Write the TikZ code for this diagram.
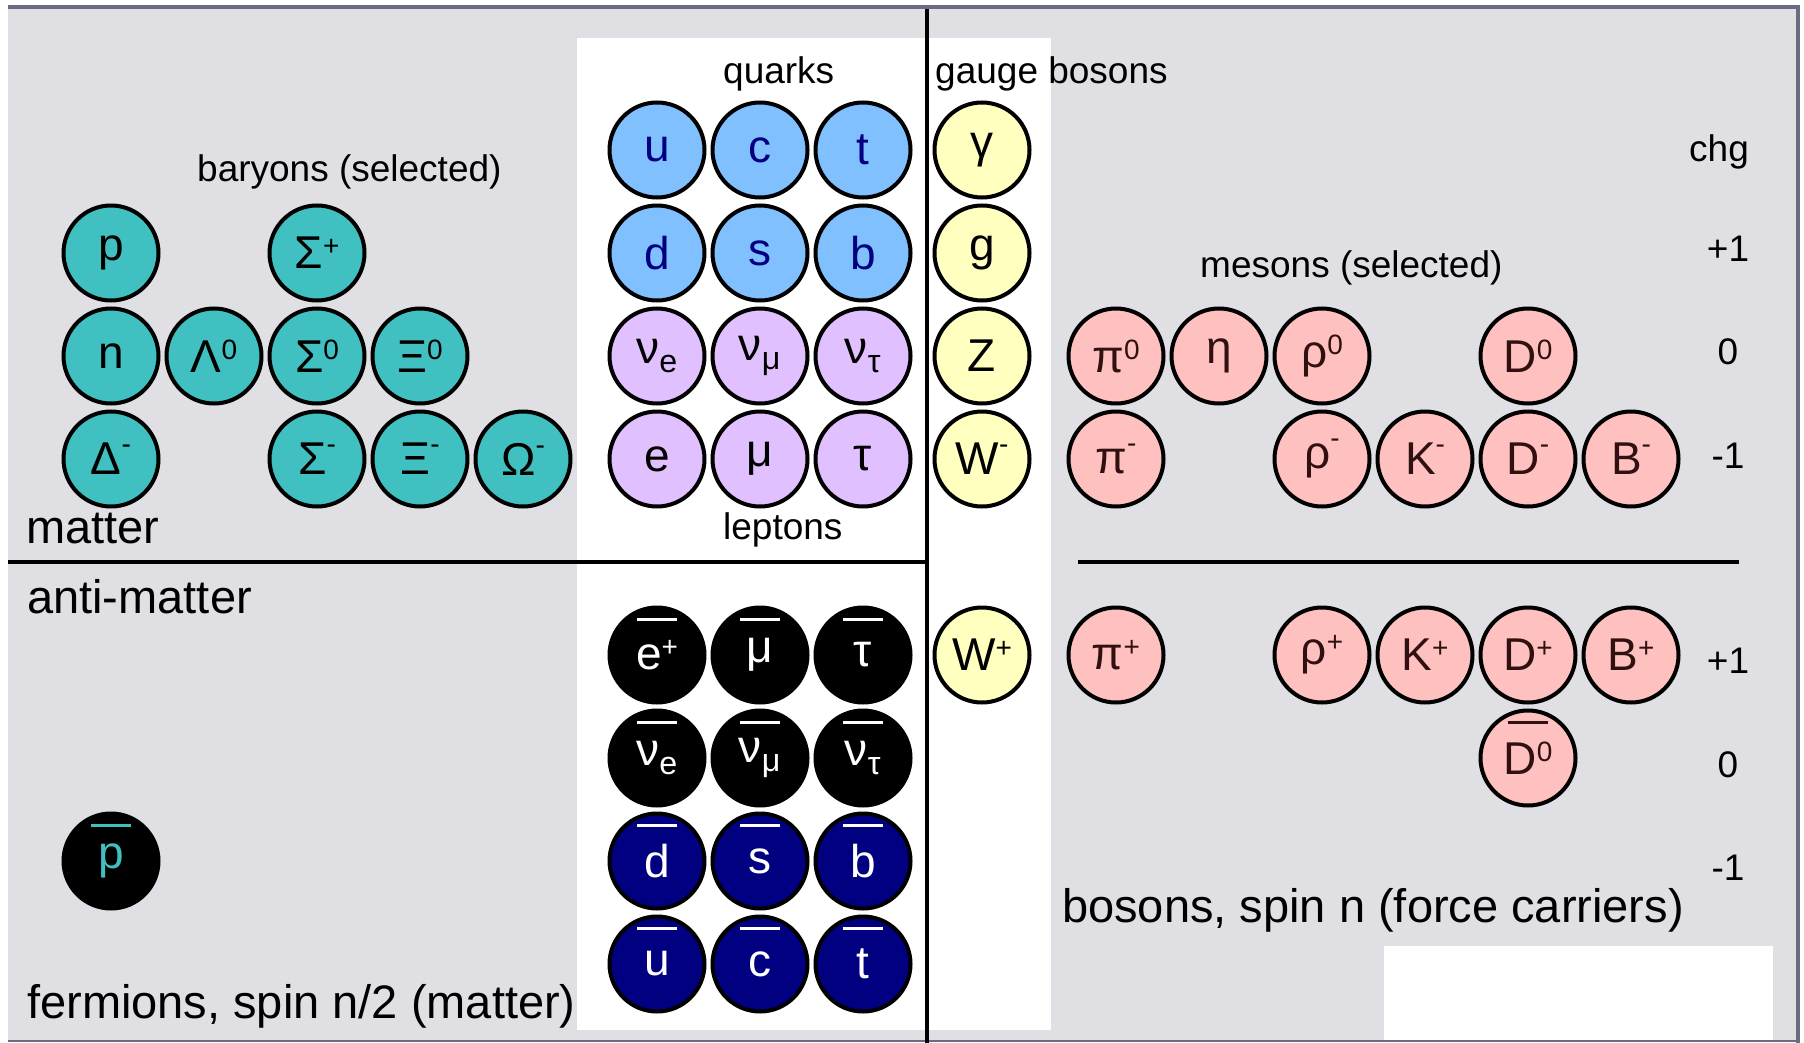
\documentclass[tikz,border=0pt]{standalone}
\usepackage{fontspec}
\setmainfont{Liberation Sans}
\usepackage{tikz}
\definecolor{bg}{HTML}{E0DFE4}
\definecolor{rim}{HTML}{6B6B82}
\definecolor{baryonfill}{HTML}{40C0C0}
\definecolor{quarkfill}{HTML}{80C0FF}
\definecolor{leptonfill}{HTML}{E0C0FF}
\definecolor{gaugefill}{HTML}{FFFFC0}
\definecolor{mesonfill}{HTML}{FFC0C0}
\definecolor{navy}{HTML}{000080}
\definecolor{mesontext}{HTML}{301010}
\newcommand{\chsup}[2][13pt]{\raisebox{#1}{\fontsize{28}{28}\selectfont #2}}
\newcommand{\chneg}{\chsup[21pt]{-}}
\tikzset{%
	rule/.style = {line width = 3.5pt, black},
	overbar/.style = {path picture = {\draw [#1, line width = 3pt] ([xshift = -20pt, yshift = 36pt]path picture bounding box.center) -- ++(40pt,0pt);}},
	ptcl/.style = {name = #1, circle, draw, line width = 4pt, minimum size = 95pt, inner sep = 0pt, font = \fontsize{46}{46}\selectfont},
	baryon/.style = {ptcl = #1, fill = baryonfill},
	quark/.style = {ptcl = #1, fill = quarkfill, text = navy},
	lepton/.style = {ptcl = #1, fill = leptonfill},
	gauge/.style = {ptcl = #1, fill = gaugefill},
	meson/.style = {ptcl = #1, fill = mesonfill, text = mesontext},
	antilep/.style = {ptcl = #1, fill = black, text = white, overbar = white},
	antiqrk/.style = {ptcl = #1, fill = navy, text = white, overbar = white},
	antibar/.style = {ptcl = #1, fill = black, text = baryonfill, overbar = baryonfill},
	smalltext/.style = {name = #1, anchor = base west, inner sep = 0pt, font = \fontsize{37}{37}\selectfont},
	bigtext/.style = {name = #1, anchor = base west, inner sep = 0pt, font = \fontsize{47}{47}\selectfont},
	chgtext/.style = {name = #1, anchor = base, inner sep = 0pt, font = \fontsize{37}{37}\selectfont}
}
\begin{document}
\begin{tikzpicture}[x = 1pt, y = -1pt]
			\useasboundingbox (0,0) rectangle (1804,1043);
			\fill [white] (0,0) rectangle (1804,1043);
			\fill [bg] (7.5,7) rectangle (1798,1041);
			\fill [white] (577,38.5) rectangle (1051,1030);
			\fill [white] (1384,946) rectangle (1773,1041);
			\draw [rim, line width = 4pt] (7.5,7) -- (1798,7) -- (1798,1043);
			\draw [rim, line width = 1.5pt] (7.5,1041) -- (1798,1041);
			\draw [rule] (7.5,562) -- (927,562);
			\draw [rule] (927,9) -- (927,1043);
			\draw [rule] (1078,562) -- (1739,562);
			\node [baryon = p] at (111,253) {p};
			\node [baryon = Sigp] at (317,253) {Σ\chsup{+}};
			\node [baryon = n] at (111,356) {n};
			\node [baryon = Lam0] at (214,356) {Λ\chsup{0}};
			\node [baryon = Sig0] at (317,356) {Σ\chsup{0}};
			\node [baryon = Xi0] at (420,356) {Ξ\chsup{0}};
			\node [baryon = Delm] at (111,459) {Δ\chneg};
			\node [baryon = Sigm] at (317,459) {Σ\chneg};
			\node [baryon = Xim] at (420,459) {Ξ\chneg};
			\node [baryon = Omm] at (523,459) {Ω\chneg};
			\node [antibar = pbar] at (111,861) {p};
			\node [quark = u] at (657,150) {u};
			\node [quark = c] at (760,150) {c};
			\node [quark = t] at (863,150) {t};
			\node [quark = d] at (657,253) {d};
			\node [quark = s] at (760,253) {s};
			\node [quark = b] at (863,253) {b};
			\node [lepton = nue] at (657,356) {ν\textsubscript{e}};
			\node [lepton = numu] at (760,356) {ν\textsubscript{μ}};
			\node [lepton = nutau] at (863,356) {ν\textsubscript{τ}};
			\node [lepton = e] at (657,459) {e};
			\node [lepton = mu] at (760,459) {μ};
			\node [lepton = tau] at (863,459) {τ};
			\node [antilep = ebar] at (657,655) {e\chsup{+}};
			\node [antilep = mubar] at (760,655) {μ};
			\node [antilep = taubar] at (863,655) {τ};
			\node [antilep = nuebar] at (657,758) {ν\textsubscript{e}};
			\node [antilep = numubar] at (760,758) {ν\textsubscript{μ}};
			\node [antilep = nutaubar] at (863,758) {ν\textsubscript{τ}};
			\node [antiqrk = dbar] at (657,861) {d};
			\node [antiqrk = sbar] at (760,861) {s};
			\node [antiqrk = bbar] at (863,861) {b};
			\node [antiqrk = ubar] at (657,964) {u};
			\node [antiqrk = cbar] at (760,964) {c};
			\node [antiqrk = tbar] at (863,964) {t};
			\node [gauge = gam] at (982,150) {γ};
			\node [gauge = g] at (982,253) {g};
			\node [gauge = Z] at (982,356) {Z};
			\node [gauge = Wm] at (982,459) {W\chneg};
			\node [gauge = Wp] at (982,655) {W\chsup{+}};
			\node [meson = pi0] at (1116,356) {π\chsup{0}};
			\node [meson = eta] at (1219,356) {η};
			\node [meson = rho0] at (1322,356) {ρ\chsup{0}};
			\node [meson = D0] at (1528,356) {D\chsup{0}};
			\node [meson = pim] at (1116,459) {π\chneg};
			\node [meson = rhom] at (1322,459) {ρ\chneg};
			\node [meson = Km] at (1425,459) {K\chneg};
			\node [meson = Dm] at (1528,459) {D\chneg};
			\node [meson = Bm] at (1631,459) {B\chneg};
			\node [meson = pip] at (1116,655) {π\chsup{+}};
			\node [meson = rhop] at (1322,655) {ρ\chsup{+}};
			\node [meson = Kp] at (1425,655) {K\chsup{+}};
			\node [meson = Dp] at (1528,655) {D\chsup{+}};
			\node [meson = Bp] at (1631,655) {B\chsup{+}};
			\node [meson = D0bar, overbar = mesontext] at (1528,758) {D\chsup{0}};
			\node [smalltext = baryons] at (197,182) {baryons (selected)};
			\node [smalltext = quarks] at (723,84) {quarks};
			\node [smalltext = gaugebosons] at (935,84) {gauge bosons};
			\node [smalltext = leptons] at (723,539) {leptons};
			\node [smalltext = mesons] at (1200,277) {mesons (selected)};
			\node [chgtext = chg] at (1719,162) {chg};
			\node [chgtext = qa] at (1728,261) {+1};
			\node [chgtext = qb] at (1728,364) {0};
			\node [chgtext = qc] at (1728,468) {-1};
			\node [chgtext = qd] at (1728,673) {+1};
			\node [chgtext = qe] at (1728,777) {0};
			\node [chgtext = qf] at (1728,880) {-1};
			\node [bigtext = matter] at (26,543) {matter};
			\node [bigtext = antimatter] at (27,613) {anti-matter};
			\node [bigtext = fermions] at (27,1018) {fermions, spin n/2 (matter)};
			\node [bigtext = bosons] at (1062,922) {bosons, spin n (force carriers)};
\end{tikzpicture}
\end{document}
